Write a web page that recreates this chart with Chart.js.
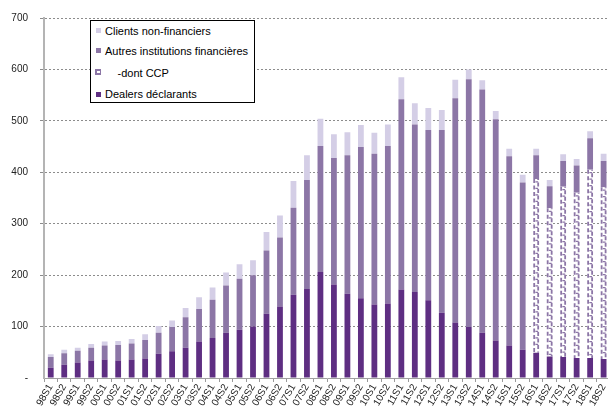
<!DOCTYPE html>
<html>
<head>
<meta charset="utf-8">
<script src="https://cdn.jsdelivr.net/npm/chart.js@4.4.1/dist/chart.umd.min.js"></script>
<style>
  html, body { margin: 0; padding: 0; overflow: hidden; background: #fff; width: 608px; height: 407px; }
  #wrap { position: absolute; left: 0; top: 0; width: 614px; height: 407px; }
  #legend { position: absolute; left: 90px; top: 20px; width: 163px; height: 81px; border: 1px solid #000; background: #fff;
            font: 11px 'Liberation Sans', Arial, sans-serif; color: #000; }
  #legend .row { position: absolute; height: 14px; line-height: 14px; white-space: nowrap; }
  #legend .sw { position: absolute; left: 5px; width: 5px; height: 5px; }
  #legend .ccp { position: absolute; left: 4px; top: 48px; width: 6px; height: 6px; background: #8C76A6; }
  #legend .ccp i { position: absolute; left: 1.5px; top: 1.5px; width: 3px; height: 2px; background: #fff; }
</style>
</head>
<body>
<div id="wrap">
  <canvas id="chart"></canvas>
  <div id="legend">
    <div class="sw" style="top:7px;background:#D4CEE6"></div>
    <div class="row" style="left:14px;top:2.5px">Clients non-financiers</div>
    <div class="sw" style="top:27px;background:#8C76A6"></div>
    <div class="row" style="left:14px;top:22.5px">Autres institutions financières</div>
    <div class="ccp"><i></i></div>
    <div class="row" style="left:26.5px;top:44.5px">-dont CCP</div>
    <div class="sw" style="top:70.5px;background:#5E2E82"></div>
    <div class="row" style="left:14px;top:66px">Dealers déclarants</div>
  </div>
</div>
<script>
// Semesters from 1998 S1 to 2018 S2
const periods = ['98S1','98S2','99S1','99S2','00S1','00S2','01S1','01S2','02S1','02S2',
                 '03S1','03S2','04S1','04S2','05S1','05S2','06S1','06S2','07S1','07S2',
                 '08S1','08S2','09S1','09S2','10S1','10S2','11S1','11S2','12S1','12S2',
                 '13S1','13S2','14S1','14S2','15S1','15S2','16S1','16S2','17S1','17S2',
                 '18S1','18S2'];

// Reporting dealers
const dealers = [20, 26, 30, 34, 36, 34, 36, 38, 47, 52,
                 59, 71, 78, 88, 94, 100, 125, 139, 162, 173,
                 206, 182, 164, 155, 143, 145, 172, 167, 151, 127,
                 108, 99, 88, 73, 63, 55, 49, 42, 41, 39,
                 39, 37];

// Other financial institutions (total, central counterparties included)
const autres = [21, 22, 23, 25, 27, 30, 31, 36, 41, 47,
                59, 63, 74, 92, 99, 100, 123, 134, 169, 212,
                245, 246, 269, 294, 293, 306, 370, 326, 331, 355,
                436, 482, 473, 430, 368, 325, 384, 331, 381, 374,
                427, 385];

// of which central counterparties (reported from 2016 on)
const ccp = [null, null, null, null, null, null, null, null, null, null,
             null, null, null, null, null, null, null, null, null, null,
             null, null, null, null, null, null, null, null, null, null,
             null, null, null, null, null, null, 338, 288, 331, 321,
             366, 334];

// Non-financial customers
const clients = [5, 7, 6, 7, 8, 8, 9, 11, 13, 13,
                 18, 23, 24, 25, 28, 29, 36, 43, 52, 48,
                 53, 46, 45, 43, 41, 42, 43, 41, 43, 39,
                 36, 19, 18, 16, 15, 15, 13, 12, 13, 13,
                 14, 14];

const yTicks = [0, 100, 200, 300, 400, 500, 600, 700];

const COL_DEALERS = '#5E2E82';
const COL_AUTRES = '#8C76A6';
const COL_CLIENTS = '#D4CEE6';
const FONT = "'Liberation Sans', Arial, sans-serif";

// CCP share is stacked right above the dealers, the rest of "autres" above it
const ccpPart = ccp.map(v => v || 0);
const autresRest = autres.map((v, i) => v - ccpPart[i]);

// Dashed hatch drawn over the CCP segments
const ccpHatch = {
  id: 'ccpHatch',
  afterDatasetsDraw(chart) {
    const meta = chart.getDatasetMeta(1);
    const ctx = chart.ctx;
    ctx.save();
    ctx.strokeStyle = COL_AUTRES;
    meta.data.forEach((bar, i) => {
      if (!ccpPart[i]) return;
      const p = bar.getProps(['x', 'y', 'base', 'width'], true);
      const l = p.x - p.width / 2 + 0.9;
      const r = p.x + p.width / 2 - 0.9;
      const top = Math.min(p.y, p.base), bot = Math.max(p.y, p.base);
      ctx.lineWidth = 1.8;
      ctx.setLineDash([4, 2.5]);
      ctx.beginPath();
      ctx.moveTo(l, top); ctx.lineTo(l, bot);
      ctx.stroke();
      ctx.lineDashOffset = 3;
      ctx.beginPath();
      ctx.moveTo(r, top); ctx.lineTo(r, bot);
      ctx.stroke();
      ctx.lineDashOffset = 0;
      ctx.setLineDash([]);
      ctx.lineWidth = 1.3;
      ctx.beginPath();
      for (let yy = top + 3; yy < bot - 2; yy += 6.5) {
        ctx.moveTo(p.x - 0.8, yy); ctx.lineTo(r, yy);
      }
      ctx.stroke();
    });
    ctx.restore();
  }
};

new Chart(document.getElementById('chart'), {
  type: 'bar',
  data: {
    labels: periods,
    datasets: [
      { label: 'Dealers déclarants', data: dealers, backgroundColor: COL_DEALERS },
      { label: '-dont CCP', data: ccpPart, backgroundColor: '#ffffff' },
      { label: 'Autres institutions financières', data: autresRest, backgroundColor: COL_AUTRES },
      { label: 'Clients non-financiers', data: clients, backgroundColor: COL_CLIENTS }
    ]
  },
  options: {
    responsive: true,
    maintainAspectRatio: false,
    animation: false,
    layout: { padding: { top: 16, left: 0, right: 0, bottom: 0 } },
    datasets: { bar: { barPercentage: 0.43, categoryPercentage: 1, borderWidth: 0 } },
    plugins: { legend: { display: false }, tooltip: { enabled: false } },
    scales: {
      x: {
        stacked: true,
        offset: true,
        afterFit: (axis) => { axis.height = 29; },
        grid: { display: true, drawOnChartArea: false, drawTicks: true, tickLength: 4, offset: true, color: '#9a9a9a' },
        border: { display: true, color: '#a0a0a0', width: 1 },
        ticks: { autoSkip: false, maxRotation: 60, minRotation: 60, padding: 0,
                 color: '#222', font: { family: FONT, size: 10 } }
      },
      y: {
        stacked: true,
        min: 0,
        max: 700,
        afterFit: (axis) => { axis.width = 44; },
        afterBuildTicks: (axis) => { axis.ticks = yTicks.map(v => ({ value: v })); },
        grid: {
          color: (c) => (c.tick && c.tick.value === 0) ? 'rgba(0,0,0,0)' : '#8c8c8c',
          lineWidth: 1, tickLength: 4, drawTicks: true
        },
        border: { display: true, color: '#b4b4b4', width: 2, dash: [2, 2] },
        ticks: { padding: 12, color: '#222', font: { family: FONT, size: 10 },
                 callback: (v) => v === 0 ? '-' : String(v) }
      }
    }
  },
  plugins: [ccpHatch]
});
</script>
</body>
</html>
